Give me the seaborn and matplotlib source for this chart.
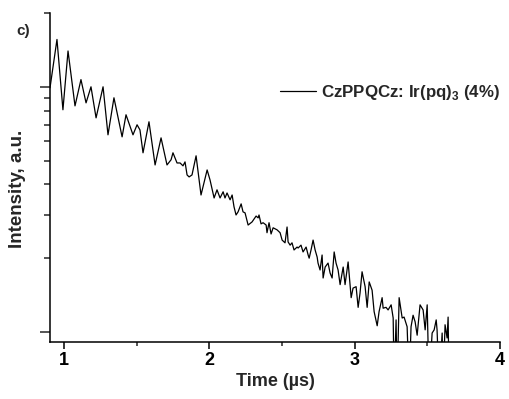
import matplotlib
matplotlib.use("Agg")
import matplotlib.pyplot as plt
import matplotlib.ticker as mticker
import seaborn as sns
import pandas as pd
import numpy as np

# Time (µs)
time_us = [0.904, 0.952, 0.993, 1.028, 1.076, 1.117, 1.152, 1.186, 1.221, 1.269,
           1.303, 1.344, 1.400, 1.427, 1.475, 1.503, 1.523, 1.544, 1.585, 1.627,
           1.668, 1.709, 1.737, 1.750, 1.778, 1.799, 1.819, 1.833, 1.847, 1.861,
           1.881, 1.909, 1.943, 1.985, 2.005, 2.033, 2.053, 2.074, 2.095, 2.108,
           2.122, 2.143, 2.157, 2.170, 2.184, 2.198, 2.219, 2.232, 2.246, 2.267,
           2.294, 2.322, 2.336, 2.342, 2.356, 2.370, 2.391, 2.397, 2.411, 2.425,
           2.439, 2.466, 2.487, 2.501, 2.521, 2.535, 2.542, 2.556, 2.569, 2.583,
           2.604, 2.611, 2.631, 2.645, 2.666, 2.680, 2.687, 2.700, 2.714, 2.728,
           2.742, 2.748, 2.762, 2.776, 2.783, 2.797, 2.817, 2.831, 2.845, 2.859,
           2.872, 2.886, 2.900, 2.921, 2.934, 2.955, 2.976, 2.989, 3.010, 3.024,
           3.037, 3.051, 3.072, 3.086, 3.100, 3.120, 3.134, 3.155, 3.168, 3.189,
           3.196, 3.216, 3.230, 3.251, 3.265, 3.272, 3.285, 3.292, 3.306, 3.327,
           3.340, 3.361, 3.375, 3.388, 3.402, 3.416, 3.430, 3.450, 3.471, 3.485,
           3.499, 3.512, 3.533, 3.547, 3.561, 3.567, 3.581, 3.602, 3.609, 3.622,
           3.636, 3.643, 3.650]

# Intensity (a.u.)
intensity = [9.9, 15.6, 8.06, 14.0, 8.36, 10.7, 8.60, 10.0, 7.47, 10.0,
             6.37, 9.02, 6.25, 7.69, 6.37, 7.00, 6.67, 5.38, 7.20, 4.80,
             6.19, 4.80, 5.04, 5.38, 4.89, 4.89, 4.76, 4.94, 4.37, 4.29,
             4.37, 5.23, 3.62, 4.58, 4.17, 3.52, 3.80, 3.52, 3.73, 3.52,
             3.69, 3.46, 3.62, 3.24, 3.00, 3.09, 3.33, 3.09, 3.06, 2.73,
             2.81, 2.97, 2.92, 3.00, 2.76, 2.79, 2.73, 2.54, 2.79, 2.51,
             2.66, 2.61, 2.54, 2.37, 2.31, 2.68, 2.33, 2.26, 2.31, 2.16,
             2.22, 2.20, 2.26, 2.12, 2.22, 2.06, 2.00, 2.16, 2.37, 2.16,
             2.02, 1.91, 1.79, 2.06, 1.66, 1.84, 1.91, 1.74, 1.66, 2.12,
             1.91, 1.79, 1.56, 1.84, 1.56, 1.93, 1.38, 1.51, 1.53, 1.26,
             1.44, 1.76, 1.53, 1.26, 1.60, 1.48, 1.21, 1.06, 1.21, 1.38,
             1.25, 1.26, 1.23, 1.29, 1.14, 0.60, 1.12, 0.60, 1.38, 1.14,
             1.15, 1.05, 0.60, 1.05, 1.17, 1.10, 0.97, 1.29, 1.23, 1.02,
             1.29, 0.60, 0.99, 1.02, 1.12, 1.02, 0.60, 0.99, 0.60, 1.07,
             0.945, 1.15, 0.60]

series_label = "CzPPQCz: Ir(pq)$_\\mathbf{3}$ (4%)"
x_ticks = [1, 2, 3, 4]
x_minor = [1.5, 2.5, 3.5]

sns.set_theme(style="ticks")
plt.rcParams['font.family'] = ['Liberation Sans', 'DejaVu Sans']
plt.rcParams['font.weight'] = 'bold'
plt.rcParams['mathtext.fontset'] = 'custom'
plt.rcParams['mathtext.rm'] = 'Liberation Sans:bold'
plt.rcParams['mathtext.bf'] = 'Liberation Sans:bold'

df = pd.DataFrame({"Time": time_us, "Intensity": intensity})

fig = plt.figure(figsize=(5.09, 3.99), dpi=100)
ax = fig.add_axes([50/509, 1 - 342/399, 450/509, 329/399])

sns.lineplot(data=df, x="Time", y="Intensity", ax=ax, color="black",
             linewidth=0.9, label=series_label, sort=False,
             solid_joinstyle="round")

ax.set_yscale("log")
ax.set_ylim(0.91, 20.0)
ax.set_xlim(0.904, 4.0)

ax.set_xticks(x_ticks)
ax.set_xticklabels([str(t) for t in x_ticks])
ax.set_xticks(x_minor, minor=True)
ax.yaxis.set_major_locator(mticker.LogLocator(base=10, numticks=10))
ax.yaxis.set_minor_locator(mticker.LogLocator(base=10, subs=np.arange(2, 10), numticks=20))
ax.yaxis.set_major_formatter(mticker.NullFormatter())
ax.yaxis.set_minor_formatter(mticker.NullFormatter())

for s in ["top", "right"]:
    ax.spines[s].set_visible(False)
for s in ["left", "bottom"]:
    ax.spines[s].set_linewidth(1.1)
    ax.spines[s].set_color("black")

ax.tick_params(axis="x", which="major", direction="out", length=5, width=1.1,
               labelsize=13, pad=2, colors="black")
ax.tick_params(axis="x", which="minor", direction="out", length=3, width=1.1)
ax.tick_params(axis="y", which="major", direction="out", length=7, width=1.1)
ax.tick_params(axis="y", which="minor", direction="out", length=4, width=1.1)
for lab in ax.get_xticklabels():
    lab.set_fontweight("bold")

ax.set_xlabel("Time (µs)", fontsize=13, fontweight="bold", labelpad=3)
ax.set_ylabel("")
fig.text(18/509, 1 - 189/399, "Intensity, a.u.", rotation=90, fontsize=13.5,
         fontweight="bold", ha="center", va="center")
fig.text(23/509, 1 - 31/399, "c)", fontsize=11, fontweight="bold",
         ha="center", va="center")

leg = ax.legend(loc="center left", bbox_to_anchor=(280/509, 1 - 92/399),
                bbox_transform=fig.transFigure, frameon=False,
                handlelength=2.1, handletextpad=0.3, borderpad=0,
                borderaxespad=0, prop={"size": 12.2, "weight": "bold"})

fig.savefig("out.png", dpi=100)
